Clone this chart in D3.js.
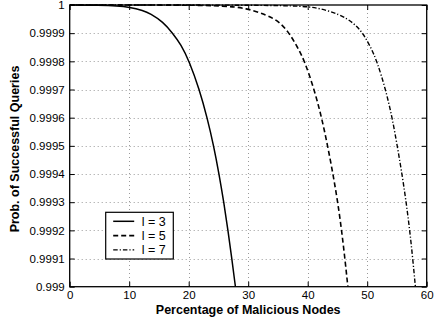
<!DOCTYPE html>
<html>
<head>
<meta charset="utf-8">
<script src="https://cdn.jsdelivr.net/npm/d3@7"></script>
<style>
  body { margin: 0; background: #fff; }
  svg { display: block; font-family: "Liberation Sans", Arial, sans-serif; }
</style>
</head>
<body>
<svg id="chart" width="435" height="322"></svg>
<script>
// values
var l3x = [0, 5, 8, 10, 12.4, 13.5, 15.7, 17.3, 18.7, 20.1, 21.8, 23.1, 24.2, 25.1, 25.9, 26.6, 27.25, 27.85];
var l3y = [1, 0.999999, 0.999997, 0.999993, 0.99998, 0.99997, 0.99994, 0.9999, 0.99986, 0.9998, 0.9997, 0.9996, 0.9995, 0.9994, 0.9993, 0.9992, 0.9991, 0.999];

var l5x = [0, 20, 26, 29.7, 33.1, 35.3, 36.9, 38.3, 39.5, 41.1, 42.35, 43.35, 44.25, 45.05, 45.7, 46.25, 46.75];
var l5y = [1, 1, 0.999997, 0.999989, 0.999965, 0.99994, 0.9999, 0.99985, 0.9998, 0.9997, 0.9996, 0.9995, 0.9994, 0.9993, 0.9992, 0.9991, 0.999];

var l7x = [0, 30, 38, 41.5, 45.4, 47.7, 49.3, 50.6, 51.65, 53.1, 54.2, 55.05, 55.85, 56.55, 57.15, 57.65, 58.1];
var l7y = [1, 1, 0.999997, 0.999992, 0.999967, 0.999937, 0.9999, 0.99985, 0.9998, 0.9997, 0.9996, 0.9995, 0.9994, 0.9993, 0.9992, 0.9991, 0.999];

var seriesNames = ["l = 3", "l = 5", "l = 7"];
var xTicks = [0, 10, 20, 30, 40, 50, 60];
var yTicks = [0.999, 0.9991, 0.9992, 0.9993, 0.9994, 0.9995, 0.9996, 0.9997, 0.9998, 0.9999, 1];

var svg = d3.select("#chart");
// plot box edges (note: "top" is reserved on window, so use pTop etc.)
var pLeft = 69.7, pRight = 426.7, pTop = 5, pBottom = 286.7;

var x = d3.scaleLinear().domain([0, 60]).range([pLeft, pRight]);
var y = d3.scaleLinear().domain([0.999, 1]).range([pBottom, pTop]);

// dotted grid
var grid = svg.append("g").attr("stroke", "#9a9a9a").attr("stroke-width", 1).attr("stroke-dasharray", "1,3");
grid.selectAll("line.gx").data(xTicks.slice(1, -1)).enter().append("line")
  .attr("x1", function (d) { return Math.round(x(d)) + 0.5; })
  .attr("x2", function (d) { return Math.round(x(d)) + 0.5; })
  .attr("y1", pTop).attr("y2", pBottom);
grid.selectAll("line.gy").data(yTicks.slice(1, -1)).enter().append("line")
  .attr("y1", function (d) { return Math.round(y(d)) + 0.5; })
  .attr("y2", function (d) { return Math.round(y(d)) + 0.5; })
  .attr("x1", pLeft).attr("x2", pRight);

// axes, ticks pointing inward
function styleAxis(g) {
  g.select(".domain").remove();
  g.selectAll("text").attr("font-size", "11.5px").attr("fill", "#000")
    .attr("font-family", "'Liberation Sans', Arial, sans-serif");
  g.selectAll("line").attr("stroke", "#000");
}
svg.append("g").attr("transform", "translate(0," + pBottom + ")")
  .call(d3.axisBottom(x).tickValues(xTicks).tickSize(-5).tickPadding(4).tickFormat(d3.format("d")))
  .call(styleAxis);
svg.append("g").attr("transform", "translate(0," + pTop + ")")
  .call(d3.axisTop(x).tickValues(xTicks).tickSize(-5).tickFormat(""))
  .call(styleAxis);
svg.append("g").attr("transform", "translate(" + pLeft + ",0)")
  .call(d3.axisLeft(y).tickValues(yTicks).tickSize(-5).tickPadding(5).tickFormat(function (d) { return d === 1 ? "1" : d3.format(".4f")(d).replace(/0+$/, ""); }))
  .call(styleAxis);
svg.append("g").attr("transform", "translate(" + pRight + ",0)")
  .call(d3.axisRight(y).tickValues(yTicks).tickSize(-5).tickFormat(""))
  .call(styleAxis);

// clip curves to plot box
svg.append("clipPath").attr("id", "plot").append("rect")
  .attr("x", pLeft).attr("y", pTop - 1).attr("width", pRight - pLeft).attr("height", pBottom - pTop + 1);

// b-spline smooths out small reading errors between the points
var line = d3.line()
  .x(function (d) { return x(d[0]); })
  .y(function (d) { return y(d[1]); })
  .curve(d3.curveBasis);

var series = [
  { name: seriesNames[0], pts: d3.zip(l3x, l3y), dash: null, w: 1.5 },
  { name: seriesNames[1], pts: d3.zip(l5x, l5y), dash: "5,3", w: 1.6 },
  { name: seriesNames[2], pts: d3.zip(l7x, l7y), dash: "4.5,2,1.2,2", w: 1.4 }
];

svg.append("g").attr("clip-path", "url(#plot)")
  .selectAll("path").data(series).enter().append("path")
  .attr("d", function (d) { return line(d.pts); })
  .attr("fill", "none").attr("stroke", "#000")
  .attr("stroke-width", function (d) { return d.w; })
  .attr("stroke-dasharray", function (d) { return d.dash; });

// plot frame
svg.append("rect").attr("x", pLeft).attr("y", pTop).attr("width", pRight - pLeft).attr("height", pBottom - pTop)
  .attr("fill", "none").attr("stroke", "#000").attr("stroke-width", 1.3);

// legend
var lg = svg.append("g").attr("transform", "translate(105.7,212.3)");
lg.append("rect").attr("width", 67.6).attr("height", 46.7).attr("fill", "#fff").attr("stroke", "#000").attr("stroke-width", 1.2);
var items = lg.selectAll("g.item").data(series).enter().append("g")
  .attr("transform", function (d, i) { return "translate(0," + (9 + i * 14.3) + ")"; });
items.append("line").attr("x1", 7.5).attr("x2", 28.5).attr("y1", 0).attr("y2", 0)
  .attr("stroke", "#000")
  .attr("stroke-width", function (d) { return d.w; })
  .attr("stroke-dasharray", function (d) { return d.dash; });
items.append("text").attr("x", 36).attr("y", 4.5).attr("font-size", "12.5px").text(function (d) { return d.name; });

// axis titles
svg.append("text").attr("x", (pLeft + pRight) / 2).attr("y", 314).attr("text-anchor", "middle")
  .attr("font-size", "12.5px").attr("font-weight", "bold").text("Percentage of Malicious Nodes");
svg.append("text").attr("transform", "translate(19," + 149 + ") rotate(-90)").attr("text-anchor", "middle")
  .attr("font-size", "12.5px").attr("font-weight", "bold").text("Prob. of Successful Queries");
</script>
</body>
</html>
